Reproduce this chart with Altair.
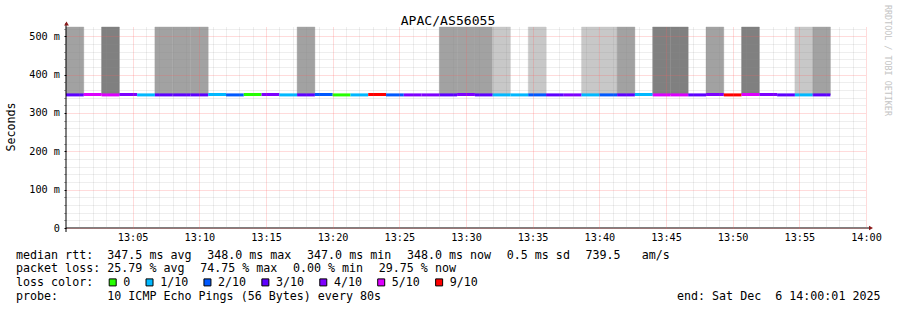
import altair as alt
import pandas as pd

MONO = "DejaVu Sans Mono"
NB = "\u00a0"

TITLE = "APAC/AS56055"
Y_TITLE = "Seconds"
WATERMARK = "RRDTOOL / TOBI OETIKER"

# ---- data -------------------------------------------------------------
PROBE_STEP_S = 80
N_STEPS = 43
step_start = pd.date_range("2025-12-06 13:00:00", periods=N_STEPS, freq=f"{PROBE_STEP_S}s")
step_end = step_start + pd.Timedelta(seconds=PROBE_STEP_S)

# lost pings out of 10 per step (drives the median line colour)
loss_count = [3, 5, 5, 4, 1, 3, 3, 3, 1, 2, 0, 4, 1, 3, 2, 0, 1, 9, 2, 4, 4, 3,
              4, 3, 1, 1, 2, 3, 4, 1, 2, 3, 1, 5, 5, 3, 4, 9, 5, 4, 3, 1, 3]
# smoke shade per step: L light, M medium, D dark, "" none
smoke = ["M", "", "D", "", "", "M", "M", "M", "", "", "", "", "", "M", "", "", "", "", "", "", "", "M",
         "M", "M", "L", "", "L", "", "", "L", "L", "M", "", "D", "D", "", "M", "", "D", "", "", "L", "M"]
# median rtt (ms) per step
median_ms = [347.0, 348.0, 347.0, 348.0, 347.0, 347.0, 347.0, 347.0, 348.0, 347.0, 348.0,
             348.0, 347.0, 347.0, 348.0, 347.0, 347.0, 348.0, 347.0, 347.0, 347.0, 347.0,
             348.0, 347.0, 347.0, 347.0, 347.0, 347.0, 347.0, 347.0, 347.0, 347.0, 348.0,
             347.0, 347.0, 347.0, 348.0, 347.0, 348.0, 348.0, 347.0, 347.0, 347.0]

Y_TOP_MS = 524
y_major = [0, 100, 200, 300, 400, 500]
y_minor = [v for v in range(20, 521, 20) if v % 100 != 0]

loss_levels = [0, 1, 2, 3, 4, 5, 9]
loss_labels = ["0", "1/10", "2/10", "3/10", "4/10", "5/10", "9/10"]
loss_colors = ["#26ff00", "#00b8ff", "#0059ff", "#5e00ff", "#7e00ff", "#dd00ff", "#ff0000"]
smoke_levels = ["L", "M", "D"]
smoke_colors = ["#c8c8c8", "#a2a2a2", "#808080"]

rtt_stats = ["347.5 ms avg", "348.0 ms max", "347.0 ms min", "348.0 ms now", "0.5 ms sd", "739.5   am/s"]
loss_stats = ["25.79 % avg", "74.75 % max", "0.00 % min", "29.75 % now"]
probe_text = "10 ICMP Echo Pings (56 Bytes) every 80s"
end_text = "end: Sat Dec  6 14:00:01 2025"

steps = pd.DataFrame({
    "t0": step_start.strftime("%Y-%m-%dT%H:%M:%S"),
    "t1": step_end.strftime("%Y-%m-%dT%H:%M:%S"),
    "loss": loss_count,
    "smoke": smoke,
    "median": median_ms,
})


def dt(h, m):
    return alt.DateTime(year=2025, month=12, date=6, hours=h, minutes=m)


x_minor_vals = [dt(13, m) for m in range(1, 60) if m % 5 != 0]
x_major_vals = [dt(13, m) for m in range(5, 60, 5)] + [dt(14, 0)]

xs = alt.Scale(domain=[dt(13, 0), dt(14, 0)])
ys = alt.Scale(domain=[0, Y_TOP_MS], nice=False)

W, H = 800, 201

minor_x_axis = alt.Axis(values=x_minor_vals, grid=True, gridColor="#8c8c8c", gridOpacity=0.3,
                        gridDash=[1, 1], labels=False, ticks=False, domain=False,
                        orient="bottom", zindex=1)
minor_y_axis = alt.Axis(values=y_minor, grid=True, gridColor="#8c8c8c", gridOpacity=0.3,
                        gridDash=[1, 1], labels=False, ticks=True, tickSize=2, tickColor="#555555",
                        domain=False, orient="left", zindex=1)
major_x_axis = alt.Axis(values=x_major_vals, format="%H:%M", grid=True, gridColor="#ff6060",
                        gridOpacity=0.45, gridDash=[1, 1], ticks=False, domain=False,
                        labelFont=MONO, labelFontSize=10.2, labelColor="#000000", labelPadding=4,
                        labelFlush=False, labelOverlap=False, labelBound=False,
                        orient="bottom", zindex=1)
major_y_axis = alt.Axis(values=y_major,
                        labelExpr="datum.value == 0 ? '0' : datum.value + ' m'",
                        grid=True, gridColor="#ff6060", gridOpacity=0.45, gridDash=[1, 1],
                        ticks=True, tickSize=2, tickColor="#000000", domain=False,
                        labelFont=MONO, labelFontSize=10.2, labelColor="#000000", labelPadding=4.5,
                        orient="left", zindex=1)

smoke_layer = alt.Chart(steps).transform_filter("datum.smoke != ''").mark_rect(
    strokeWidth=0.4
).encode(
    x=alt.X("t0:T", scale=xs, axis=minor_x_axis, title=None),
    x2="t1:T",
    y=alt.Y("median:Q", scale=ys, axis=minor_y_axis, title=None),
    y2=alt.datum(Y_TOP_MS),
    color=alt.Color("smoke:N", scale=alt.Scale(domain=smoke_levels, range=smoke_colors), legend=None),
    stroke=alt.Stroke("smoke:N", scale=alt.Scale(domain=smoke_levels, range=smoke_colors), legend=None),
)

line_layer = alt.Chart(steps).mark_rule(strokeWidth=3).encode(
    x=alt.X("t0:T", scale=xs, axis=major_x_axis, title=None),
    x2="t1:T",
    y=alt.Y("median:Q", scale=ys, axis=major_y_axis, title=None),
    color=alt.Color("loss:N", scale=alt.Scale(domain=loss_levels, range=loss_colors), legend=None),
)

ONE = alt.Data(values=[{}])

# page pixel -> plot pixel
OX, OY = 66, 27


def px(x):
    return x - OX


def py(y):
    return y - OY


def label(text, x, y, size=11.67, align="left", baseline="alphabetic", angle=0, color="#000000"):
    return alt.Chart(ONE).mark_text(
        text=text.replace(" ", NB), font=MONO, fontSize=size, align=align,
        baseline=baseline, angle=angle, color=color,
    ).encode(x=alt.value(x), y=alt.value(y))


layers = [smoke_layer, line_layer]

# axis lines and arrows
layers.append(alt.Chart(ONE).mark_rule(color="#000000", strokeWidth=1).encode(
    x=alt.value(0), y=alt.value(H + 4), y2=alt.value(-4)))
layers.append(alt.Chart(ONE).mark_rule(color="#000000", strokeWidth=1).encode(
    x=alt.value(0), x2=alt.value(W + 3), y=alt.value(H)))
layers.append(alt.Chart(ONE).mark_point(shape="triangle-up", filled=True, size=22, color="#8b1a1a",
                                         opacity=1).encode(x=alt.value(0.5), y=alt.value(-3.5)))
layers.append(alt.Chart(ONE).mark_point(shape="triangle-right", filled=True, size=22, color="#8b1a1a",
                                         opacity=1).encode(x=alt.value(W + 5), y=alt.value(H)))

# titles
layers.append(label(TITLE, px(448), py(24.5), size=13.1, align="center"))
layers.append(label(Y_TITLE, px(11), py(127), size=11.67, align="center", baseline="middle", angle=270))
layers.append(label(WATERMARK, px(888), py(5), size=8.4, align="left", baseline="middle", angle=90,
                    color="#c4c4c4"))

# legend
CW = 7.03      # mono char advance at legend font size
GAP = 15.5     # gap between legend items
LX0, LX1 = 16, 107.3
base = [258.5, 272, 286, 300]

layers.append(label("median rtt:", px(LX0), py(base[0])))
x = LX1
for s in rtt_stats:
    layers.append(label(s, px(x), py(base[0])))
    x += len(s) * CW + GAP

layers.append(label("packet loss:", px(LX0), py(base[1])))
x = LX1
for s in loss_stats:
    layers.append(label(s, px(x), py(base[1])))
    x += len(s) * CW + GAP

layers.append(label("loss color:", px(LX0), py(base[2])))
bx = 108.8
for lab, col in zip(loss_labels, loss_colors):
    layers.append(alt.Chart(ONE).mark_square(size=49, fill=col, stroke="#000000", strokeWidth=1,
                                              opacity=1).encode(
        x=alt.value(px(bx + 3.9)), y=alt.value(py(282.4))))
    layers.append(label(lab, px(bx + 14.5), py(base[2])))
    bx += 14.5 + len(lab) * CW + 15.3

layers.append(label("probe:", px(LX0), py(base[3])))
layers.append(label(probe_text, px(LX1), py(base[3])))
layers.append(label(end_text, px(880.5), py(base[3]), align="right"))

chart = alt.layer(*layers).resolve_axis(
    x="independent", y="independent"
).resolve_scale(color="independent", stroke="independent").properties(
    width=W, height=H,
    autosize=alt.AutoSizeParams(type="none"),
    padding={"left": OX, "top": OY, "right": 897 - OX - W, "bottom": 310 - OY - H},
    background="#ffffff",
).configure_view(stroke="transparent")

chart.save("out.html", embed_options={"renderer": "svg", "actions": False})
